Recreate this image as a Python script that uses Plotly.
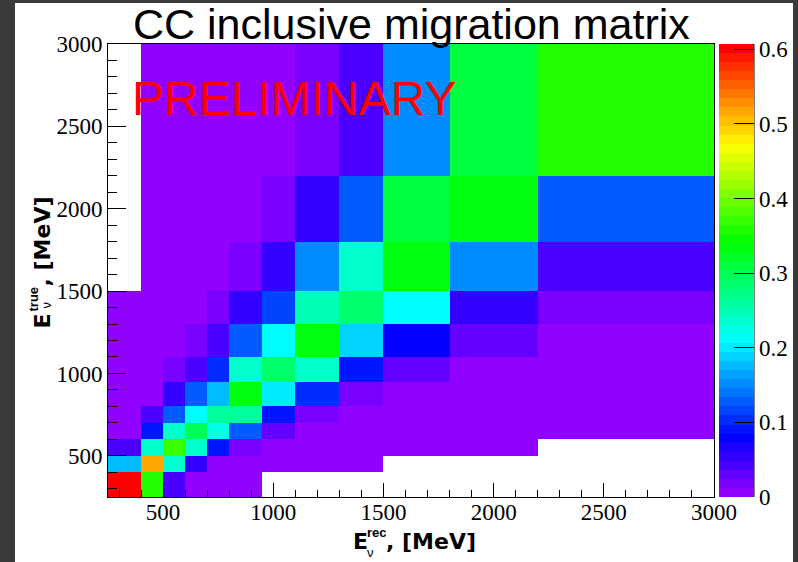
import colorsys
import plotly.graph_objects as go

# ---------------- data ----------------
x_edges = [250, 400, 500, 600, 700, 800, 950, 1100, 1300, 1500, 1800, 2200, 3000]
y_edges = [250, 400, 500, 600, 700, 800, 950, 1100, 1300, 1500, 1800, 2200, 3000]

# rows from lowest true-energy bin to highest; None = empty (not drawn)
row_250 = [0.607, 0.358, 0.042, 0.006, 0.006, 0.006, None, None, None, None, None, None]
row_400 = [0.176, 0.516, 0.237, 0.055, 0.006, 0.006, 0.006, 0.006, 0.006, None, None, None]
row_500 = [0.042, 0.237, 0.370, 0.237, 0.091, 0.018, 0.006, 0.006, 0.006, 0.006, 0.006, None]
row_600 = [0.006, 0.091, 0.237, 0.297, 0.225, 0.127, 0.030, 0.006, 0.006, 0.006, 0.006, 0.006]
row_700 = [0.006, 0.042, 0.127, 0.212, 0.261, 0.261, 0.091, 0.018, 0.006, 0.006, 0.006, 0.006]
row_800 = [0.006, 0.006, 0.055, 0.127, 0.176, 0.334, 0.200, 0.103, 0.018, 0.006, 0.006, 0.006]
row_950 = [0.006, 0.006, 0.018, 0.042, 0.103, 0.237, 0.285, 0.237, 0.091, 0.030, 0.006, 0.006]
row_1100 = [0.006, 0.006, 0.006, 0.018, 0.042, 0.127, 0.212, 0.334, 0.188, 0.079, 0.030, 0.006]
row_1300 = [0.006, 0.006, 0.006, 0.006, 0.018, 0.055, 0.115, 0.249, 0.285, 0.212, 0.060, 0.018]
row_1500 = [None, 0.006, 0.006, 0.006, 0.006, 0.018, 0.055, 0.152, 0.237, 0.334, 0.152, 0.042]
row_1800 = [None, 0.006, 0.006, 0.006, 0.006, 0.006, 0.018, 0.055, 0.127, 0.310, 0.334, 0.127]
row_2200 = [None, 0.006, 0.006, 0.006, 0.006, 0.006, 0.006, 0.018, 0.042, 0.152, 0.310, 0.358]

z = [row_250, row_400, row_500, row_600, row_700, row_800, row_950,
     row_1100, row_1300, row_1500, row_1800, row_2200]

z_min, z_max = 0.0, 0.607
cbar_ticks = [0, 0.1, 0.2, 0.3, 0.4, 0.5, 0.6]
cbar_text = ["0", "0.1", "0.2", "0.3", "0.4", "0.5", "0.6"]

# ---------------- ROOT "pretty" palette (50 colours, violet -> red) ----------------
n_col = 50
pal = []
for i in range(n_col - 1):
    hue = 280 - (i + 1) * (280.0 / n_col)
    r, g, b = colorsys.hls_to_rgb(hue / 360.0, 0.5, 1.0)
    pal.append("rgb(%d,%d,%d)" % (round(r * 255), round(g * 255), round(b * 255)))
pal.append("rgb(255,0,0)")
cscale = []
for i, c in enumerate(pal):
    cscale.append([i / n_col, c])
    cscale.append([(i + 1) / n_col, c])

# ---------------- geometry helpers (pixel -> paper) ----------------
W, H = 798, 562
L, R, T, B = 108, 84, 44, 65
PW, PH = W - L - R, H - T - B


def px(p):
    return (p - L) / PW


def py(p):
    return (H - B - p) / PH


SERIF = "Liberation Serif"
SANS = "Liberation Sans"
BOLD = "DejaVu Sans"

fig = go.Figure()
fig.add_trace(go.Heatmap(
    x=x_edges, y=y_edges, z=z,
    zmin=z_min, zmax=z_max, colorscale=cscale,
    hoverongaps=False,
    colorbar=dict(
        x=px(719), xanchor="left", xpad=0,
        y=0.5, yanchor="middle", len=1, lenmode="fraction", ypad=0,
        thickness=35, thicknessmode="pixels",
        outlinewidth=0,
        tickvals=cbar_ticks, ticktext=cbar_text,
        ticks="inside", ticklen=20, tickcolor="black", tickwidth=1,
        tickfont=dict(family=SERIF, size=23, color="black"),
    ),
))

axis_common = dict(
    showline=True, linecolor="black", linewidth=1, mirror=True,
    ticks="inside", tickcolor="black", tickwidth=1,
    showgrid=False, zeroline=False,
    tickfont=dict(family=SERIF, size=23, color="black"),
    tick0=0, dtick=500,
)
fig.update_xaxes(range=[250, 3000], ticklen=14, ticklabelstandoff=-6,
                 minor=dict(ticks="inside", ticklen=7, dtick=100, tick0=0,
                            tickcolor="black", showgrid=False),
                 **axis_common)
fig.update_yaxes(range=[250, 3000], ticklen=18,
                 minor=dict(ticks="inside", ticklen=9, dtick=100, tick0=0,
                            tickcolor="black", showgrid=False),
                 **axis_common)

ann = []
# title
ann.append(dict(text="CC inclusive migration matrix", x=px(411.5), y=py(24),
                xanchor="center", yanchor="middle",
                font=dict(family=SANS, size=43, color="black")))
# preliminary
ann.append(dict(text="PRELIMINARY", x=px(294), y=py(98),
                xanchor="center", yanchor="middle",
                font=dict(family=SANS, size=48, color="red")))
# x title pieces
ann.append(dict(text="<b>E</b>", x=px(351), y=py(541.5), xanchor="left", yanchor="middle",
                font=dict(family=BOLD, size=22, color="black")))
ann.append(dict(text="<b>rec</b>", x=px(365), y=py(532), xanchor="left", yanchor="middle",
                font=dict(family=SANS, size=13, color="black")))
ann.append(dict(text="ν", x=px(365), y=py(552), xanchor="left", yanchor="middle",
                font=dict(family=SANS, size=13, color="black")))
ann.append(dict(text="<b>, [MeV]</b>", x=px(384), y=py(541.5), xanchor="left", yanchor="middle",
                font=dict(family=BOLD, size=22, color="black")))
# y title pieces (rotated)
ann.append(dict(text="<b>E</b>", x=px(41.5), y=py(321), xanchor="center", yanchor="middle",
                textangle=-90, font=dict(family=BOLD, size=22, color="black")))
ann.append(dict(text="<b>true</b>", x=px(32.5), y=py(299), xanchor="center", yanchor="middle",
                textangle=-90, font=dict(family=SANS, size=13, color="black")))
ann.append(dict(text="ν", x=px(45.5), y=py(305), xanchor="center", yanchor="middle",
                textangle=-90, font=dict(family=SANS, size=13, color="black")))
ann.append(dict(text="<b>, [MeV]</b>", x=px(41.5), y=py(242), xanchor="center", yanchor="middle",
                textangle=-90, font=dict(family=BOLD, size=22, color="black")))
for a in ann:
    a.update(xref="paper", yref="paper", showarrow=False)

DARK = "#3a3a3a"
shapes = [
    dict(type="rect", xref="paper", yref="paper", x0=px(-5), x1=px(15), y0=py(H + 5), y1=py(-5),
         fillcolor=DARK, line=dict(width=0), layer="above"),
    dict(type="rect", xref="paper", yref="paper", x0=px(793), x1=px(W + 5), y0=py(H + 5), y1=py(-5),
         fillcolor=DARK, line=dict(width=0), layer="above"),
    dict(type="rect", xref="paper", yref="paper", x0=px(0), x1=px(W), y0=py(3), y1=py(-5),
         fillcolor=DARK, line=dict(width=0), layer="above"),
    dict(type="line", xref="paper", yref="paper", x0=px(754), x1=px(754), y0=py(497), y1=py(44),
         line=dict(color="black", width=1)),
]

fig.update_layout(
    width=W, height=H, autosize=False,
    margin=dict(l=L, r=R, t=T, b=B, pad=0, autoexpand=False),
    paper_bgcolor="white", plot_bgcolor="white",
    annotations=ann, shapes=shapes, showlegend=False,
)

fig.write_html("out.html")
